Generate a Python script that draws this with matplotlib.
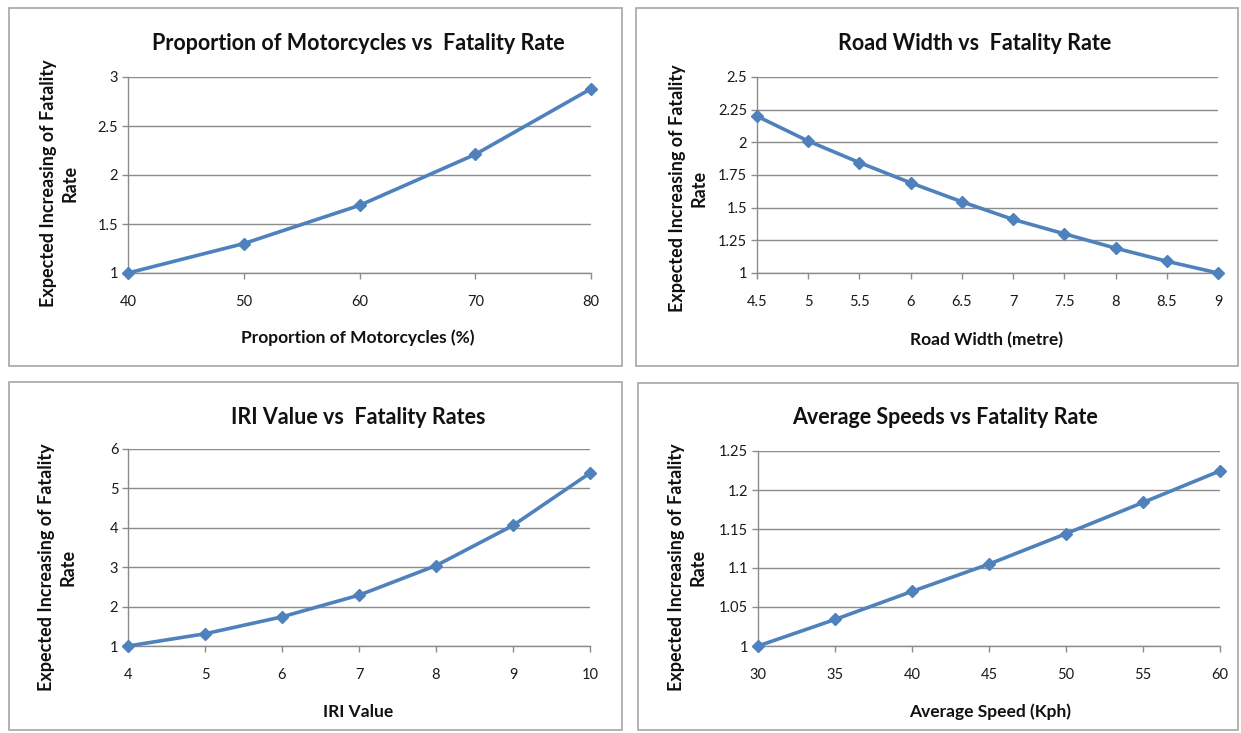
import numpy as np
import matplotlib.pyplot as plt
from matplotlib.patches import Rectangle

plt.rcParams['font.family'] = ['Lato', 'DejaVu Sans']

# data
moto_pct = [40, 50, 60, 70, 80]
moto_rate = [1.0, 1.30, 1.69, 2.21, 2.88]

road_width = [4.5, 5, 5.5, 6, 6.5, 7, 7.5, 8, 8.5, 9]
road_rate = [2.20, 2.01, 1.845, 1.69, 1.545, 1.41, 1.30, 1.19, 1.09, 1.0]

iri_value = [4, 5, 6, 7, 8, 9, 10]
iri_rate = [1.0, 1.31, 1.74, 2.29, 3.04, 4.06, 5.39]

speed_kph = [30, 35, 40, 45, 50, 55, 60]
speed_rate = [1.0, 1.034, 1.070, 1.105, 1.144, 1.184, 1.2245]

titles = ['Proportion of Motorcycles vs  Fatality Rate',
          'Road Width vs  Fatality Rate',
          'IRI Value vs  Fatality Rates',
          'Average Speeds vs Fatality Rate']
xlabels = ['Proportion of Motorcycles (%)', 'Road Width (metre)',
           'IRI Value', 'Average Speed (Kph)']
ylabel = 'Expected Increasing of Fatality\nRate'

W, H = 1241, 733
fig = plt.figure(figsize=(W / 100, H / 100), dpi=100)
LINE = '#4F81BD'
GRID = '#8C8C8C'


def px_rect(x0, y0, x1, y1):
    return [x0 / W, 1 - y1 / H, (x1 - x0) / W, (y1 - y0) / H]


def ftext(x, y, s, **kw):
    fig.text(x / W, 1 - y / H, s, **kw)


# panel borders
for (x0, y0, x1, y1) in [(9, 8, 622, 366), (636, 8, 1238, 366),
                         (9, 382, 622, 730), (638, 383, 1238, 730)]:
    fig.patches.append(Rectangle((x0 / W, 1 - y1 / H), (x1 - x0) / W, (y1 - y0) / H,
                                 transform=fig.transFigure, fill=False,
                                 edgecolor='#A6A6A6', linewidth=1.2))

panels = [
    (px_rect(128, 77, 591, 273), moto_pct, moto_rate, [1, 1.5, 2, 2.5, 3], ['1', '1.5', '2', '2.5', '3'],
     moto_pct, [str(v) for v in moto_pct]),
    (px_rect(757, 77, 1218, 273), road_width, road_rate, [1, 1.25, 1.5, 1.75, 2, 2.25, 2.5],
     ['1', '1.25', '1.5', '1.75', '2', '2.25', '2.5'], road_width, [f'{v:g}' for v in road_width]),
    (px_rect(128, 449, 590, 646), iri_value, iri_rate, [1, 2, 3, 4, 5, 6], ['1', '2', '3', '4', '5', '6'],
     iri_value, [str(v) for v in iri_value]),
    (px_rect(758, 451, 1220, 646), speed_kph, speed_rate, [1, 1.05, 1.1, 1.15, 1.2, 1.25],
     ['1', '1.05', '1.1', '1.15', '1.2', '1.25'], speed_kph, [str(v) for v in speed_kph]),
]

for rect, x, y, yt, ytl, xt, xtl in panels:
    ax = fig.add_axes(rect)
    ax.plot(x, y, color=LINE, linewidth=2.6, marker='D', markersize=6,
            markerfacecolor=LINE, markeredgecolor=LINE, zorder=3, clip_on=False)
    ax.set_xlim(x[0], x[-1])
    ax.set_ylim(yt[0], yt[-1])
    ax.set_yticks(yt)
    ax.set_yticklabels(ytl)
    ax.set_xticks(xt)
    ax.set_xticklabels(xtl)
    ax.yaxis.grid(True, color=GRID, linewidth=1)
    ax.set_axisbelow(True)
    for s in ['top', 'right']:
        ax.spines[s].set_visible(False)
    for s in ['left', 'bottom']:
        ax.spines[s].set_color(GRID)
        ax.spines[s].set_linewidth(1)
    ax.tick_params(axis='both', colors=GRID, length=4, width=1, labelsize=10.5,
                   labelcolor='#1a1a1a')
    ax.tick_params(axis='x', pad=12)
    ax.tick_params(axis='y', pad=3)

# titles
for (x, y), t in zip([(358, 43), (975, 43), (358, 417), (945, 417)], titles):
    ftext(x, y, t, ha='center', va='center', fontsize=15.5, fontweight='bold', color='#111111')

# x labels
for (x, y), t in zip([(358, 338), (986, 340), (358, 712), (990, 712)], xlabels):
    ftext(x, y, t, ha='center', va='center', fontsize=12.5, fontweight='bold', color='#111111')

# y labels
for (x, y) in [(59, 183), (688, 188), (57, 567), (687, 567)]:
    ftext(x, y, ylabel, ha='center', va='center', rotation=90, multialignment='center',
          fontsize=13, fontweight='bold', color='#111111', linespacing=1.3)

fig.savefig('out.png', dpi=100)
